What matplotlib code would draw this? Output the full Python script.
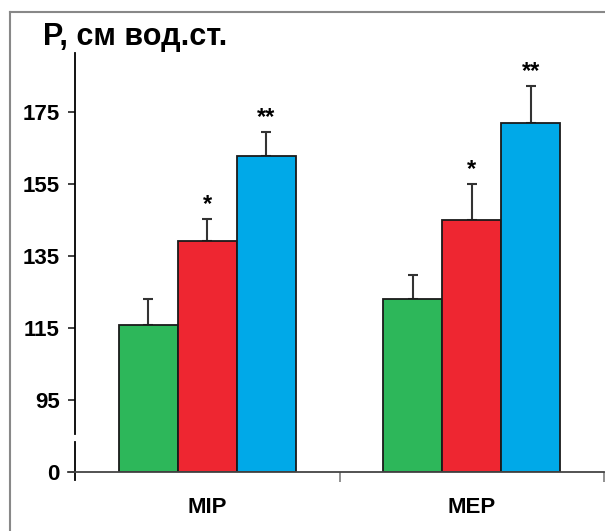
import numpy as np
import matplotlib
matplotlib.use('Agg')
import matplotlib.pyplot as plt
from matplotlib.lines import Line2D

plt.rcParams['font.family'] = ['Liberation Sans', 'DejaVu Sans']
plt.rcParams['font.weight'] = 'bold'

# данные
groups = ['MIP', 'MEP']
green_vals = [115.8, 123.1]
red_vals = [139.3, 145.1]
blue_vals = [162.9, 172.0]
green_err = [7.3, 6.6]
red_err = [5.9, 9.9]
blue_err = [6.6, 10.3]
green_marks = ['', '']
red_marks = ['*', '*']
blue_marks = ['**', '**']
tick_vals = [95, 115, 135, 155, 175]

base = 75  # разрыв оси: "0" рисуется на уровне 75
colors = ['#2DB75A', '#EE2631', '#00A9E8']

fig = plt.figure(figsize=(6.05, 5.31), dpi=100)
ax = fig.add_axes([75 / 605, 1 - 472 / 531, 529 / 605, 419 / 531])

x = np.arange(len(groups))
w = 0.223
series = [(green_vals, green_err, green_marks),
          (red_vals, red_err, red_marks),
          (blue_vals, blue_err, blue_marks)]
for i, (vals, errs, marks) in enumerate(series):
    xs = x + (i - 1) * w
    heights = np.array(vals) - base
    ax.bar(xs, heights, width=w, bottom=base, color=colors[i],
           edgecolor='#1a1a1a', linewidth=1.3, zorder=2)
    ax.errorbar(xs, vals, yerr=[np.zeros(len(errs)), errs], fmt='none',
                ecolor='#333333', elinewidth=1.5, capsize=3.5, capthick=1.5, zorder=1)
    for xi, v, e, m in zip(xs, vals, errs, marks):
        if m:
            ax.annotate(m, (xi, v + e), xytext=(0, 2), textcoords='offset points',
                        ha='center', va='bottom', fontsize=17, fontweight='bold')

ax.set_xlim(-0.5, 1.5)
ax.set_ylim(base, base + 419 / 3.6)

for s in ax.spines.values():
    s.set_visible(False)

# ось Y с разрывом
ytr = ax.get_yaxis_transform()
ax.add_line(Line2D([0, 0], [base - 8 / 3.6, base + 30 / 3.6], transform=ytr,
                   color='black', lw=1.3, clip_on=False))
ax.add_line(Line2D([0, 0], [base + 38 / 3.6, base + 419 / 3.6], transform=ytr,
                   color='black', lw=1.3, clip_on=False))
# ось X
xtr = ax.get_xaxis_transform()
ax.add_line(Line2D([-0.5 - 7 / 264.5, 1.5], [0, 0], transform=xtr,
                   color='#444444', lw=1.3, clip_on=False))

ax.set_yticks([base] + tick_vals)
ax.set_yticklabels(['0'] + [str(t) for t in tick_vals])
ax.tick_params(axis='y', direction='out', length=5, width=1.3, pad=6,
               labelsize=16, color='#333333')

ax.set_xticks([0.5, 1.5])
ax.set_xticklabels(['', ''])
ax.tick_params(axis='x', which='major', direction='out', length=7, width=1.3,
               color='#888888')
ax.set_xticks(x, minor=True)
ax.set_xticklabels(groups, minor=True)
ax.tick_params(axis='x', which='minor', length=0, pad=18, labelsize=16)
for lbl in ax.get_xticklabels(minor=True) + ax.get_yticklabels():
    lbl.set_fontweight('bold')

fig.text(43 / 605, 1 - 37 / 531, 'P, см вод.ст.', fontsize=22, fontweight='bold',
         ha='left', va='center')

# рамка рисунка
yt = 1 - 12 / 531
fig.add_artist(Line2D([10 / 605, 10 / 605], [0, yt], color='#888888', lw=1.5))
fig.add_artist(Line2D([10 / 605, 1], [yt, yt], color='#888888', lw=1.5))

fig.savefig('out.png', dpi=100)
